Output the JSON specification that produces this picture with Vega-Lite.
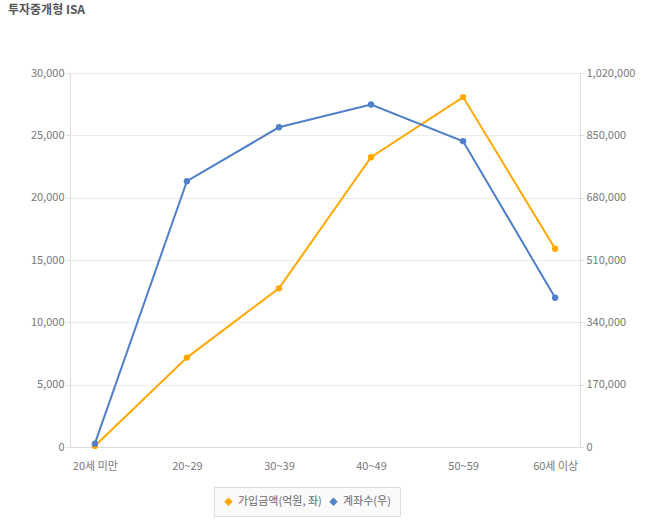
{
  "$schema": "https://vega.github.io/schema/vega-lite/v6.json",
  "width": 510,
  "height": 374,
  "autosize": {"type": "none"},
  "padding": {"left": 70, "top": 73, "right": 82, "bottom": 78},
  "background": "white",
  "title": {
    "text": "투자중개형 ISA",
    "anchor": "start",
    "frame": "group",
    "dx": -62,
    "offset": 50,
    "fontSize": 12,
    "font": "Noto Sans CJK KR",
    "fontWeight": "bold",
    "color": "#555555"
  },
  "config": {
    "view": {"stroke": null},
    "font": "Noto Sans CJK KR",
    "axis": {
      "labelFont": "Noto Sans CJK KR",
      "labelFontSize": 11,
      "labelColor": "#777777",
      "domainColor": "#dddddd",
      "tickColor": "#dddddd",
      "gridColor": "#ececec",
      "title": null
    }
  },
  "data": {
    "values": [
      {"age": "20세 미만", "series": "가입금액(억원, 좌)", "value": 80},
      {"age": "20~29", "series": "가입금액(억원, 좌)", "value": 7170},
      {"age": "30~39", "series": "가입금액(억원, 좌)", "value": 12730},
      {"age": "40~49", "series": "가입금액(억원, 좌)", "value": 23240},
      {"age": "50~59", "series": "가입금액(억원, 좌)", "value": 28070},
      {"age": "60세 이상", "series": "가입금액(억원, 좌)", "value": 15900},
      {"age": "20세 미만", "series": "계좌수(우)", "value": 9000},
      {"age": "20~29", "series": "계좌수(우)", "value": 725000},
      {"age": "30~39", "series": "계좌수(우)", "value": 872000},
      {"age": "40~49", "series": "계좌수(우)", "value": 934000},
      {"age": "50~59", "series": "계좌수(우)", "value": 834000},
      {"age": "60세 이상", "series": "계좌수(우)", "value": 407000}
    ]
  },
  "encoding": {
    "x": {
      "field": "age",
      "type": "ordinal",
      "sort": null,
      "scale": {"type": "point", "padding": 0.27},
      "axis": {"labelAngle": 0, "ticks": false, "labelPadding": 13, "grid": false}
    },
    "color": {
      "field": "series",
      "type": "nominal",
      "scale": {
        "domain": ["가입금액(억원, 좌)", "계좌수(우)"],
        "range": ["#FFA800", "#4F7FC7"]
      },
      "legend": {
        "title": null,
        "orient": "none",
        "legendX": 144,
        "legendY": 414,
        "direction": "horizontal",
        "symbolType": "diamond",
        "symbolSize": 70,
        "symbolStrokeWidth": 0,
        "labelFont": "Noto Sans CJK KR",
        "labelFontSize": 11,
        "labelColor": "#666666",
        "strokeColor": "#dddddd",
        "fillColor": "#fafafa",
        "padding": 9,
        "columnPadding": 6
      }
    }
  },
  "layer": [
    {
      "transform": [{"filter": "datum.series === '가입금액(억원, 좌)'"}],
      "mark": {"type": "line", "strokeWidth": 2, "point": {"filled": true, "size": 40}},
      "encoding": {
        "y": {
          "field": "value",
          "type": "quantitative",
          "scale": {"domain": [0, 30000], "nice": false},
          "axis": {
            "orient": "left",
            "values": [0, 5000, 10000, 15000, 20000, 25000, 30000],
            "format": ",.0f",
            "tickSize": 4,
            "labelPadding": 2,
            "grid": true
          }
        }
      }
    },
    {
      "transform": [{"filter": "datum.series === '계좌수(우)'"}],
      "mark": {"type": "line", "strokeWidth": 2, "point": {"filled": true, "size": 40}},
      "encoding": {
        "y": {
          "field": "value",
          "type": "quantitative",
          "scale": {"domain": [0, 1020000], "nice": false},
          "axis": {
            "orient": "right",
            "values": [0, 170000, 340000, 510000, 680000, 850000, 1020000],
            "format": ",.0f",
            "tickSize": 4,
            "labelPadding": 2,
            "grid": false
          }
        }
      }
    }
  ],
  "resolve": {"scale": {"y": "independent"}}
}
